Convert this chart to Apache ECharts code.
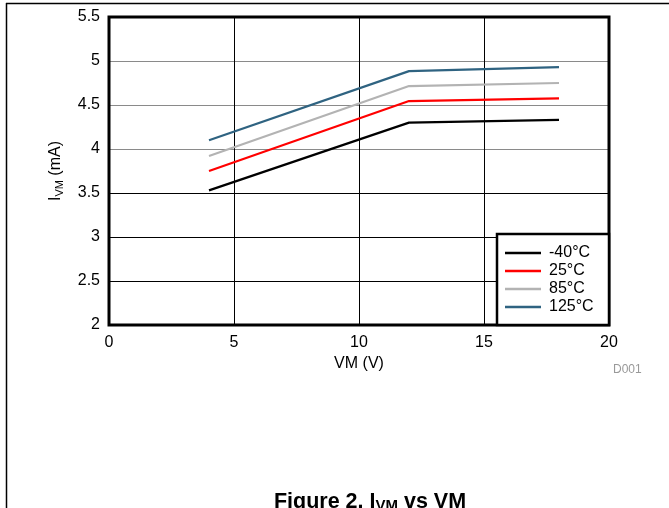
<!DOCTYPE html>
<html><head><meta charset="utf-8">
<script src="https://cdn.jsdelivr.net/npm/echarts@6/dist/echarts.min.js"></script>
<style>html,body{margin:0;padding:0;background:#fff}#c{width:669px;height:508px}</style>
</head><body><div id="c"></div>
<script>
const vm = [4, 12, 18];
const seriesNames = ['-40°C', '25°C', '85°C', '125°C'];
const iM40 = [3.53, 4.30, 4.33];
const i25 = [3.75, 4.545, 4.575];
const i85 = [3.92, 4.715, 4.75];
const i125 = [4.10, 4.885, 4.93];
const xTicks = [0, 5, 10, 15, 20];
const yTicks = [2, 2.5, 3, 3.5, 4, 4.5, 5, 5.5];
const colors = ['#000000', '#ff0000', '#b3b3b3', '#2f6381'];
const values = [iM40, i25, i85, i125];

const font = 'Liberation Sans, Arial, sans-serif';
const chart = echarts.init(document.getElementById('c'));
chart.setOption({
  animation: false,
  grid: { left: 109, top: 17, width: 500, height: 308 },
  xAxis: {
    type: 'value', min: xTicks[0], max: xTicks[xTicks.length - 1], interval: 5,
    name: 'VM (V)', nameLocation: 'middle', nameGap: 26,
    nameTextStyle: { fontFamily: font, fontSize: 16, color: '#000' },
    axisLine: { show: false }, axisTick: { show: false },
    axisLabel: { fontFamily: font, fontSize: 16, color: '#000', margin: 10 },
    splitLine: { show: true, lineStyle: { color: '#000', width: 1 } }
  },
  yAxis: {
    type: 'value', min: yTicks[0], max: yTicks[yTicks.length - 1], interval: 0.5,
    axisLine: { show: false }, axisTick: { show: false },
    axisLabel: { fontFamily: font, fontSize: 16, color: '#000', margin: 9 },
    splitLine: { show: true, lineStyle: { color: ['#000', '#000', '#000', '#000', '#8a8a8a', '#8a8a8a', '#8a8a8a', '#000'], width: 1 } }
  },
  legend: {
    left: 500, top: 240, orient: 'vertical', itemWidth: 36, itemHeight: 14, itemGap: 2,
    icon: 'rect', z: 20,
    textStyle: { fontFamily: font, fontSize: 16, color: '#000', padding: [0, 0, 0, 3] },
    data: seriesNames.map((n, i) => ({ name: n, icon: 'path://M0,6 L36,6 L36,8.4 L0,8.4 Z', itemStyle: { color: colors[i] } }))
  },
  series: seriesNames.map((n, i) => ({
    name: n, type: 'line', showSymbol: false, symbol: 'none',
    lineStyle: { color: colors[i], width: 2.2 }, itemStyle: { color: colors[i] },
    data: vm.map((x, j) => [x, values[i][j]])
  })),
  graphic: [
    { type: 'rect', z: 15, shape: { x: 109, y: 17, width: 500, height: 308 }, style: { fill: 'none', stroke: '#000', lineWidth: 3 } },
    { type: 'rect', z: 16, shape: { x: 497, y: 234, width: 112, height: 91 }, style: { fill: '#fff', stroke: '#000', lineWidth: 2.5 } },
    { type: 'line', z: 16, shape: { x1: 6, y1: 3.5, x2: 669, y2: 3.5 }, style: { stroke: '#000', lineWidth: 1.5 } },
    { type: 'line', z: 16, shape: { x1: 6.5, y1: 3, x2: 6.5, y2: 508 }, style: { stroke: '#000', lineWidth: 1.5 } },
    { type: 'text', z: 16, left: 613, top: 364, style: { text: 'D001', fontFamily: font, fontSize: 12, fill: '#999' } },
    { type: 'text', z: 16, x: 56, y: 171, rotation: Math.PI / 2,
      style: {
        text: '{a|I}{s|VM}{a| (mA)}', align: 'center', verticalAlign: 'middle',
        rich: { a: { fontFamily: font, fontSize: 16, fill: '#000' }, s: { fontFamily: font, fontSize: 11, fill: '#000', padding: [7, 0, 0, 0] } }
      } },
    { type: 'text', z: 16, x: 370, y: 502,
      style: {
        text: '{a|Figure 2. I}{s|VM}{a| vs VM}', align: 'center', verticalAlign: 'middle',
        rich: { a: { fontFamily: font, fontSize: 21.5, fontWeight: 'bold', fill: '#000' }, s: { fontFamily: font, fontSize: 15, fontWeight: 'bold', fill: '#000', padding: [8, 0, 0, 0] } }
      } }
  ]
});
</script></body></html>
